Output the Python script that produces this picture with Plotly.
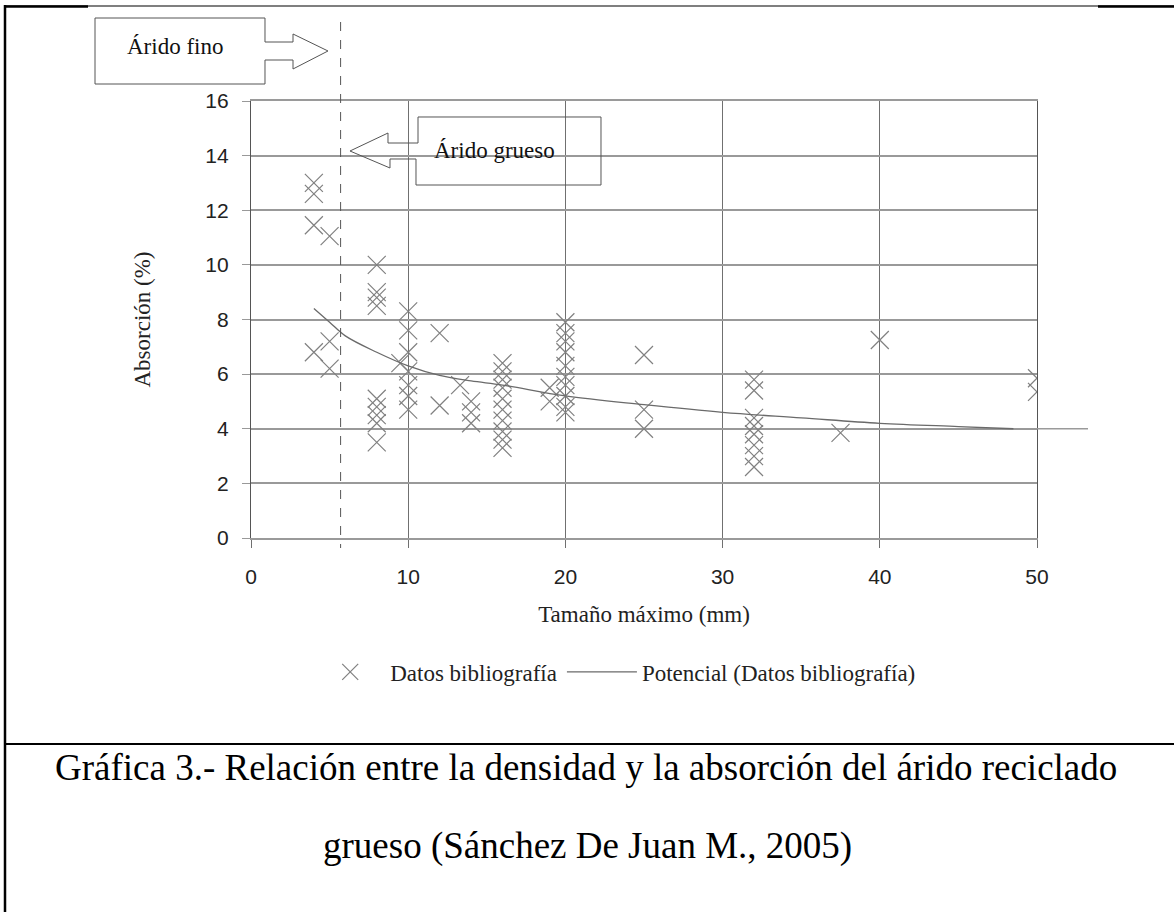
import plotly.graph_objects as go

# ---------------- data ----------------
tamano_mm = [4, 4, 4, 4,
             5, 5, 5,
             8, 8, 8, 8, 8, 8, 8, 8, 8,
             9.5,
             10, 10, 10, 10, 10, 10, 10,
             12, 12,
             13.3,
             14, 14, 14,
             16, 16, 16, 16, 16, 16, 16, 16, 16, 16,
             19, 19,
             20, 20, 20, 20, 20, 20, 20, 20, 20, 20,
             25, 25, 25,
             32, 32, 32, 32, 32, 32, 32, 32,
             37.5,
             40,
             50, 50]
absorcion = [13.0, 12.6, 11.45, 6.8,
             11.05, 7.2, 6.2,
             10.0, 9.0, 8.8, 8.5, 5.1, 4.8, 4.5, 4.2, 3.5,
             6.4,
             8.3, 7.6, 6.8, 6.1, 5.6, 5.2, 4.7,
             7.5, 4.85,
             5.6,
             5.0, 4.6, 4.2,
             6.4, 6.1, 5.8, 5.5, 5.1, 4.7, 4.3, 3.9, 3.6, 3.3,
             5.5, 5.0,
             7.9, 7.5, 7.2, 6.8, 6.3, 5.9, 5.6, 5.2, 4.8, 4.6,
             6.7, 4.7, 4.0,
             5.8, 5.4, 4.4, 4.1, 3.8, 3.4, 3.0, 2.6,
             3.85,
             7.25,
             5.85, 5.35]

# trend line (power fit)
trend_x = [4, 5, 6, 8, 10, 12, 14, 16, 20, 25, 30, 35, 40, 45, 48.5]
trend_y = [8.4, 7.9, 7.4, 6.8, 6.3, 5.95, 5.75, 5.6, 5.2, 4.88, 4.6, 4.4, 4.2, 4.08, 4.0]

x_ticks = [0, 10, 20, 30, 40, 50]
y_ticks = [0, 2, 4, 6, 8, 10, 12, 14, 16]
limite_fino_grueso = 5.7   # dashed separator (mm)

name_data = "Datos bibliografía"
name_trend = "Potencial (Datos bibliografía)"
caption_1 = "Gráfica 3.- Relación entre la densidad y la absorción del árido reciclado"
caption_2 = "grueso (Sánchez De Juan M., 2005)"

# ---------------- layout geometry ----------------
W, H = 1174, 912
L, R, T, B = 251, 1037, 101, 538   # plot area in pixels
PW, PH = R - L, B - T


def px(x):
    return (x - L) / PW


def py(y):
    return (B - y) / PH


SERIF = "Liberation Serif, Times New Roman, serif"
SANS = "Liberation Sans, Arial, sans-serif"

fig = go.Figure()
fig.add_trace(go.Scatter(
    x=tamano_mm, y=absorcion, mode="markers", name=name_data,
    marker=dict(symbol="x-thin", size=18, color="#808080",
                line=dict(width=1.2, color="#808080")),
))
fig.add_trace(go.Scatter(
    x=trend_x, y=trend_y, mode="lines", name=name_trend,
    line=dict(color="#6a6a6a", width=1.3, shape="spline"),
))

shapes = []
# dashed separator between fine and coarse aggregate
shapes.append(dict(type="line", xref="paper", yref="paper",
                   x0=limite_fino_grueso / 50, x1=limite_fino_grueso / 50,
                   y0=py(22), y1=py(548),
                   line=dict(color="#555555", width=1, dash="dash")))
# horizontal line at 4 extended beyond the axis
shapes.append(dict(type="line", xref="paper", yref="paper",
                   x0=1.0, x1=px(1088), y0=4 / 16, y1=4 / 16,
                   line=dict(color="#9a9a9a", width=1.3)))


def poly(points):
    d = "M " + " L ".join(f"{px(a):.5f},{py(b):.5f}" for a, b in points) + " Z"
    return d


# "Árido fino" box with arrow to the right, "Árido grueso" box with arrow to the left
fino_pts = [(95, 18), (265, 18), (265, 42), (293, 42), (293, 34), (328, 51),
            (293, 69), (293, 60), (265, 60), (265, 84), (95, 84)]
grueso_pts = [(418, 117), (601, 117), (601, 185), (416, 185), (416, 159),
              (390, 159), (390, 168), (350, 151), (388, 133), (388, 143), (418, 143)]
for pts in (fino_pts, grueso_pts):
    shapes.append(dict(type="path", xref="paper", yref="paper", path=poly(pts),
                       line=dict(color="#555555", width=1), fillcolor="rgba(0,0,0,0)"))

# page frame
shapes.append(dict(type="line", xref="paper", yref="paper", x0=px(5), x1=px(1174),
                   y0=py(6), y1=py(6), line=dict(color="black", width=1.2)))
shapes.append(dict(type="line", xref="paper", yref="paper", x0=px(5), x1=px(88),
                   y0=py(6.5), y1=py(6.5), line=dict(color="black", width=2.5)))
shapes.append(dict(type="line", xref="paper", yref="paper", x0=px(1098), x1=px(1174),
                   y0=py(6.5), y1=py(6.5), line=dict(color="black", width=2.5)))
shapes.append(dict(type="line", xref="paper", yref="paper", x0=px(5), x1=px(5),
                   y0=py(5), y1=py(912), line=dict(color="black", width=2.5)))
shapes.append(dict(type="line", xref="paper", yref="paper", x0=px(5), x1=px(1174),
                   y0=py(744), y1=py(744), line=dict(color="black", width=2.2)))

annotations = [
    dict(text="Árido fino", xref="paper", yref="paper", x=px(175), y=py(46),
         xanchor="center", yanchor="middle",
         showarrow=False, font=dict(family=SERIF, size=23, color="#111")),
    dict(text="Árido grueso", xref="paper", yref="paper", x=px(494), y=py(150),
         xanchor="center", yanchor="middle",
         showarrow=False, font=dict(family=SERIF, size=23, color="#111")),
    dict(text=caption_1, xref="paper", yref="paper", x=px(586), y=py(768),
         xanchor="center", yanchor="middle",
         showarrow=False, font=dict(family=SERIF, size=37, color="black")),
    dict(text=caption_2, xref="paper", yref="paper", x=px(587), y=py(846),
         xanchor="center", yanchor="middle",
         showarrow=False, font=dict(family=SERIF, size=37, color="black")),
]

fig.update_layout(
    width=W, height=H,
    margin=dict(l=L, r=W - R, t=T, b=H - B, autoexpand=False),
    paper_bgcolor="white", plot_bgcolor="white",
    showlegend=True,
    legend=dict(orientation="h", x=0.464, xanchor="center", y=py(672), yanchor="middle",
                font=dict(family=SERIF, size=23, color="#222"),
                bgcolor="rgba(0,0,0,0)", itemwidth=70, tracegroupgap=0),
    shapes=shapes, annotations=annotations,
)
fig.update_xaxes(
    range=[0, 50], tickvals=x_ticks, showgrid=True, gridcolor="#707070", gridwidth=1.1,
    zeroline=False, showline=True, linecolor="#9a9a9a", linewidth=2, mirror=True,
    ticks="outside", ticklen=8, tickcolor="#707070", ticklabelstandoff=11,
    tickfont=dict(family=SANS, size=21, color="#222"),
    title=dict(text="Tamaño máximo (mm)", font=dict(family=SERIF, size=23, color="#222"),
               standoff=19),
)
fig.update_yaxes(
    range=[0, 16], tickvals=y_ticks, showgrid=True, gridcolor="#999999", gridwidth=1.5,
    zeroline=False, showline=True, linecolor="#555555", linewidth=1.2, mirror=True,
    ticks="outside", ticklen=8, tickcolor="#999999", ticklabelstandoff=9,
    tickfont=dict(family=SANS, size=21, color="#222"),
    title=dict(text="Absorción (%)", font=dict(family=SERIF, size=23, color="#222"),
               standoff=48),
)

fig.write_html("out.html", config={"displayModeBar": False},
               post_script="document.body.style.margin='0px';")
